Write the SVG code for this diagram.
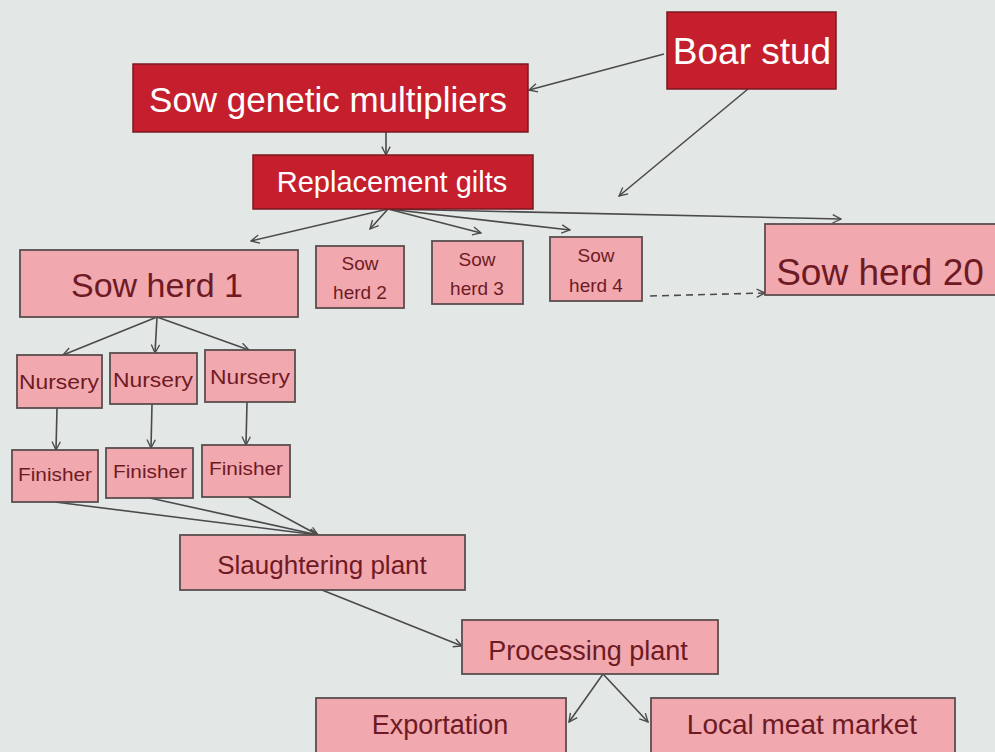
<svg xmlns="http://www.w3.org/2000/svg" width="995" height="752" viewBox="0 0 995 752">
<defs>
<marker id="ah" viewBox="0 0 12 12" refX="11" refY="6" markerWidth="10" markerHeight="10" markerUnits="userSpaceOnUse" orient="auto">
<path d="M1,1 L11,6 L1,11" fill="none" stroke="#4a4a4a" stroke-width="1.6"/>
</marker>
<style>
.dark rect{fill:#c51f2d;stroke:#7a1a20;stroke-width:1.5}
.pink rect{fill:#f1a8ae;stroke:#5a4d4d;stroke-width:1.8}
.dark text{fill:#ffffff;font-family:"Liberation Sans",Arial,sans-serif;text-anchor:middle}
.pink text{fill:#6e1a24;font-family:"Liberation Sans",Arial,sans-serif;text-anchor:middle}
.c line,.c path{stroke:#4a4a4a;stroke-width:1.6;fill:none}
</style>
</defs>
<rect width="995" height="752" fill="#e3e7e6"/>
<g class="c" id="connectors">
<line x1="664" y1="54" x2="529" y2="90" marker-end="url(#ah)"/>
<line x1="748" y1="89" x2="619" y2="196" marker-end="url(#ah)"/>
<line x1="386" y1="132" x2="386" y2="155" marker-end="url(#ah)"/>
<line x1="388" y1="209" x2="251" y2="241" marker-end="url(#ah)"/>
<line x1="388" y1="209" x2="370" y2="229" marker-end="url(#ah)"/>
<line x1="388" y1="209" x2="481" y2="233" marker-end="url(#ah)"/>
<line x1="388" y1="209" x2="570" y2="230" marker-end="url(#ah)"/>
<line x1="388" y1="209" x2="841" y2="219" marker-end="url(#ah)"/>
<line x1="650" y1="296" x2="765" y2="293" stroke-dasharray="7,5" marker-end="url(#ah)"/>
<line x1="157" y1="317" x2="63" y2="355" marker-end="url(#ah)"/>
<line x1="157" y1="317" x2="155" y2="353" marker-end="url(#ah)"/>
<line x1="157" y1="317" x2="249" y2="350" marker-end="url(#ah)"/>
<line x1="57" y1="408" x2="56" y2="450" marker-end="url(#ah)"/>
<line x1="152" y1="404" x2="151" y2="448" marker-end="url(#ah)"/>
<line x1="247" y1="402" x2="246" y2="445" marker-end="url(#ah)"/>
<line x1="55" y1="502" x2="318" y2="535" marker-end="url(#ah)"/>
<line x1="150" y1="498" x2="318" y2="535" marker-end="url(#ah)"/>
<line x1="248" y1="497" x2="318" y2="535" marker-end="url(#ah)"/>
<line x1="322" y1="590" x2="462" y2="646" marker-end="url(#ah)"/>
<line x1="603" y1="674" x2="569" y2="722" marker-end="url(#ah)"/>
<line x1="603" y1="674" x2="648" y2="722" marker-end="url(#ah)"/>
</g>
<g id="boar-stud" class="dark"><rect x="667" y="12" width="169" height="77"/><text x="752" y="64" font-size="37">Boar stud</text></g>
<g id="sow-genetic-multipliers" class="dark"><rect x="133" y="64" width="395" height="68"/><text x="328" y="112" font-size="35">Sow genetic multipliers</text></g>
<g id="replacement-gilts" class="dark"><rect x="253" y="155" width="280" height="54"/><text x="392" y="192" font-size="29">Replacement gilts</text></g>
<g id="sow-herd-1" class="pink"><rect x="20" y="250" width="278" height="67"/><text x="157" y="297" font-size="34">Sow herd 1</text></g>
<g id="sow-herd-2" class="pink"><rect x="316" y="246" width="88" height="62"/><text x="360" y="270" font-size="19">Sow</text><text x="360" y="299" font-size="19">herd 2</text></g>
<g id="sow-herd-3" class="pink"><rect x="432" y="241" width="91" height="63"/><text x="477" y="266" font-size="19">Sow</text><text x="477" y="295" font-size="19">herd 3</text></g>
<g id="sow-herd-4" class="pink"><rect x="550" y="237" width="92" height="64"/><text x="596" y="262" font-size="19">Sow</text><text x="596" y="292" font-size="19">herd 4</text></g>
<g id="sow-herd-20" class="pink"><rect x="765" y="224" width="240" height="71"/><text x="880" y="285" font-size="37">Sow herd 20</text></g>
<g id="nursery-1" class="pink"><rect x="17" y="355" width="85" height="53"/><text x="59" y="389" font-size="21" textLength="80" lengthAdjust="spacingAndGlyphs">Nursery</text></g>
<g id="nursery-2" class="pink"><rect x="110" y="353" width="87" height="51"/><text x="153" y="387" font-size="21" textLength="80" lengthAdjust="spacingAndGlyphs">Nursery</text></g>
<g id="nursery-3" class="pink"><rect x="205" y="350" width="90" height="52"/><text x="250" y="384" font-size="21" textLength="80" lengthAdjust="spacingAndGlyphs">Nursery</text></g>
<g id="finisher-1" class="pink"><rect x="12" y="450" width="86" height="52"/><text x="55" y="481" font-size="19" textLength="74" lengthAdjust="spacingAndGlyphs">Finisher</text></g>
<g id="finisher-2" class="pink"><rect x="106" y="448" width="87" height="50"/><text x="150" y="478" font-size="19" textLength="74" lengthAdjust="spacingAndGlyphs">Finisher</text></g>
<g id="finisher-3" class="pink"><rect x="202" y="445" width="88" height="52"/><text x="246" y="475" font-size="19" textLength="74" lengthAdjust="spacingAndGlyphs">Finisher</text></g>
<g id="slaughtering-plant" class="pink"><rect x="180" y="535" width="285" height="55"/><text x="322" y="574" font-size="26">Slaughtering plant</text></g>
<g id="processing-plant" class="pink"><rect x="462" y="620" width="256" height="54"/><text x="588" y="660" font-size="27">Processing plant</text></g>
<g id="exportation" class="pink"><rect x="316" y="698" width="250" height="60"/><text x="440" y="734" font-size="27">Exportation</text></g>
<g id="local-meat-market" class="pink"><rect x="651" y="698" width="304" height="60"/><text x="802" y="734" font-size="28">Local meat market</text></g>
</svg>
